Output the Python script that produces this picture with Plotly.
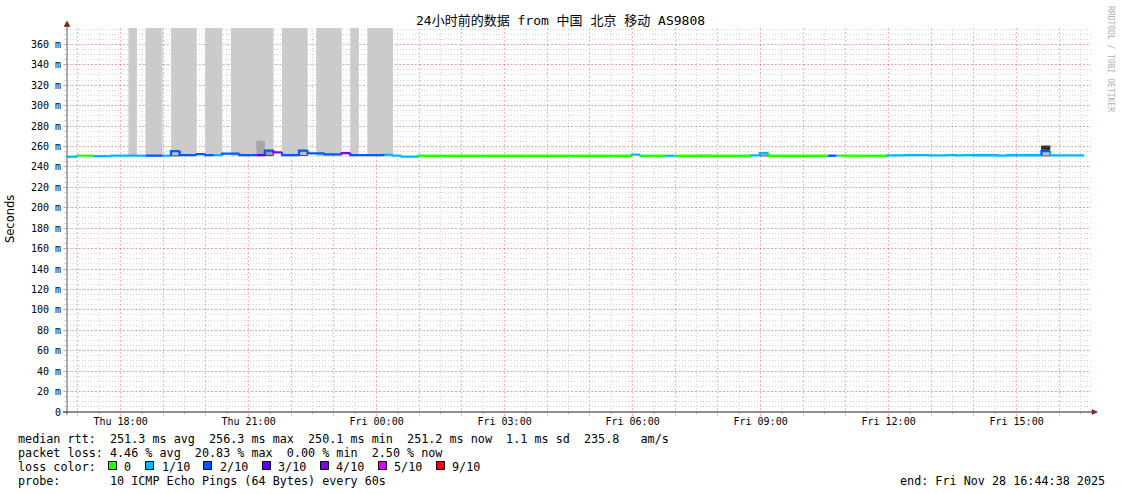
import plotly.graph_objects as go
from datetime import datetime, timedelta

# ---------------- geometry ----------------
W, H = 1121, 494
ML, MR, MT, MB = 67, 30, 28, 82
PW, PH = W - ML - MR, H - MT - MB

X_START = "2025-11-27 16:44:38"
X_END = "2025-11-28 16:44:38"
Y_MAX = 376

TITLE = "24小时前的数据 from 中国 北京 移动 AS9808"

# ---------------- data ----------------
# median rtt steps: start time, median (ms), pings lost (of 10)
step_start = [
    "2025-11-27 16:35", "2025-11-27 16:59", "2025-11-27 17:23", "2025-11-27 17:47",
    "2025-11-27 18:35", "2025-11-27 18:59", "2025-11-27 19:11", "2025-11-27 19:23",
    "2025-11-27 19:47", "2025-11-27 19:59", "2025-11-27 20:11", "2025-11-27 20:23",
    "2025-11-27 20:47", "2025-11-27 21:11", "2025-11-27 21:23", "2025-11-27 21:35",
    "2025-11-27 21:47", "2025-11-27 22:11", "2025-11-27 22:23", "2025-11-27 22:47",
    "2025-11-27 23:11", "2025-11-27 23:23", "2025-11-28 00:11", "2025-11-28 00:23",
    "2025-11-28 00:35", "2025-11-28 00:59", "2025-11-28 05:59", "2025-11-28 06:11",
    "2025-11-28 06:47", "2025-11-28 06:59", "2025-11-28 08:47", "2025-11-28 08:59",
    "2025-11-28 09:11", "2025-11-28 10:35", "2025-11-28 10:47", "2025-11-28 11:59",
    "2025-11-28 12:23", "2025-11-28 12:59", "2025-11-28 13:23", "2025-11-28 13:35",
    "2025-11-28 13:47", "2025-11-28 13:59", "2025-11-28 14:35", "2025-11-28 14:47",
    "2025-11-28 15:35", "2025-11-28 15:47",
]
step_last_end = "2025-11-28 16:35"
step_median = [
    250.0, 251.0, 250.5, 251.0,
    251.0, 251.0, 255.5, 251.5,
    252.5, 251.5, 251.5, 253.0,
    251.5, 251.5, 256.0, 254.3,
    251.5, 256.0, 253.2, 252.2,
    253.5, 251.5, 251.8, 251.0,
    250.0, 250.9, 252.0, 250.9,
    250.9, 250.9, 251.2, 253.5,
    250.9, 251.0, 250.9, 251.3,
    251.6, 251.3, 251.6, 251.2,
    251.6, 251.4, 251.1, 251.4,
    255.5, 251.3,
]
step_lost = [
    1, 0, 1, 1,
    2, 1, 2, 2,
    2, 2, 1, 2,
    2, 3, 2, 4,
    2, 2, 2, 2,
    4, 2, 1, 1,
    1, 0, 1, 0,
    1, 0, 1, 1,
    0, 2, 0, 1,
    1, 1, 1, 1,
    1, 1, 1, 1,
    2, 1,
]

# smoke blocks: start, end, low (ms), high (ms), style
smoke_start = [
    "2025-11-27 18:11", "2025-11-27 18:35", "2025-11-27 19:11", "2025-11-27 19:59",
    "2025-11-27 20:35", "2025-11-27 21:47", "2025-11-27 22:35", "2025-11-27 23:23",
    "2025-11-27 23:47", "2025-11-28 07:35",
    "2025-11-27 21:11",
    "2025-11-27 19:11", "2025-11-27 21:23", "2025-11-27 22:11", "2025-11-28 08:59",
    "2025-11-28 15:35",
    "2025-11-28 15:35",
]
smoke_end = [
    "2025-11-27 18:23", "2025-11-27 18:59", "2025-11-27 19:47", "2025-11-27 20:23",
    "2025-11-27 21:35", "2025-11-27 22:23", "2025-11-27 23:11", "2025-11-27 23:35",
    "2025-11-28 00:23", "2025-11-28 07:47",
    "2025-11-27 21:23",
    "2025-11-27 19:23", "2025-11-27 21:35", "2025-11-27 22:23", "2025-11-28 09:11",
    "2025-11-28 15:47",
    "2025-11-28 15:47",
]
smoke_lo = [
    250.5, 250.5, 250.5, 250.5, 250.5, 250.5, 250.5, 250.5, 250.5, 250.9,
    251.5,
    250.8, 251.2, 251.2, 250.8,
    250.8,
    256.8,
]
smoke_hi = [
    400, 400, 400, 400, 400, 400, 400, 400, 400, 252.3,
    265.5,
    255.5, 256.0, 256.0, 253.5,
    255.5,
    260.5,
]
smoke_style = [
    "light", "light", "light", "light", "light", "light", "light", "light", "light", "light",
    "mid",
    "box", "boxdark", "box", "box",
    "box",
    "dark",
]

loss_levels = [0, 1, 2, 3, 4, 5, 9]
loss_labels = ["0", "1/10", "2/10", "3/10", "4/10", "5/10", "9/10"]
loss_colors = ["#26ff00", "#00b8ff", "#0059ff", "#5e00ff", "#7e00ff", "#dd00ff", "#ff0000"]

y_tick_vals = list(range(0, 361, 20))
y_tick_text = ["0"] + [f"{v} m" for v in y_tick_vals[1:]]

stat_lines = [
    "median rtt:  251.3 ms avg  256.3 ms max  250.1 ms min  251.2 ms now  1.1 ms sd  235.8   am/s",
    "packet loss: 4.46 % avg  20.83 % max  0.00 % min  2.50 % now",
    "loss color:",
    "probe:       10 ICMP Echo Pings (64 Bytes) every 60s",
]
end_text = "end: Fri Nov 28 16:44:38 2025"

# ---------------- helpers ----------------
MONO = "DejaVu Sans Mono, Noto Sans CJK SC, monospace"


def pxx(x):
    return (x - ML) / PW


def pxy(y):
    return (H - MB - y) / PH


def nb(s):
    return s.replace(" ", "\u00a0")


fig = go.Figure()

# smoke
style_fmt = {
    "light": dict(fill="#cbcbcb", line="rgba(0,0,0,0)", lw=0),
    "mid": dict(fill="#a6a6a6", line="rgba(0,0,0,0)", lw=0),
    "box": dict(fill="#c4c4c4", line="#303030", lw=0.8),
    "boxdark": dict(fill="#9c9c9c", line="#303030", lw=0.8),
    "dark": dict(fill="#333333", line="#303030", lw=0.8),
}
for st, fmt in style_fmt.items():
    xs, ys = [], []
    for s, e, lo, hi, sty in zip(smoke_start, smoke_end, smoke_lo, smoke_hi, smoke_style):
        if sty != st:
            continue
        xs += [s, e, e, s, s, None]
        ys += [lo, lo, hi, hi, lo, None]
    fig.add_trace(go.Scatter(
        x=xs, y=ys, mode="lines", fill="toself", fillcolor=fmt["fill"],
        line=dict(color=fmt["line"], width=fmt["lw"]),
        hoverinfo="skip", showlegend=False))

# median line, coloured by loss
step_end = step_start[1:] + [step_last_end]
for lvl, col in zip(loss_levels, loss_colors):
    xs, ys = [], []
    for i, (s, e, v, l) in enumerate(zip(step_start, step_end, step_median, step_lost)):
        if l != lvl:
            continue
        prev = step_median[i - 1] if i > 0 else v
        xs += [s, s, e, None]
        ys += [prev, v, v, None]
    if xs:
        fig.add_trace(go.Scatter(
            x=xs, y=ys, mode="lines", line=dict(color=col, width=2.3),
            hoverinfo="skip", showlegend=False))

GRID = "rgba(143,143,143,0.38)"
MGRID = "rgba(230,60,60,0.38)"

shapes = []
# half-hour minor vertical grid lines
t0 = datetime(2025, 11, 27, 17, 30)
t_end = datetime(2025, 11, 28, 16, 44)
t = t0
while t <= t_end:
    shapes.append(dict(type="line", xref="x", yref="paper", x0=t, x1=t, y0=0, y1=1,
                       line=dict(color=GRID, width=1, dash="1px,2px"), layer="below"))
    shapes.append(dict(type="line", xref="x", yref="paper", x0=t, x1=t, y0=pxy(412), y1=pxy(415),
                       line=dict(color=GRID, width=1)))
    t += timedelta(hours=1)

# axis lines and arrows
shapes.append(dict(type="line", xref="paper", yref="paper", x0=pxx(67), x1=pxx(67),
                   y0=pxy(415), y1=pxy(24), line=dict(color="#5a5a5a", width=1)))
shapes.append(dict(type="line", xref="paper", yref="paper", x0=pxx(63), x1=pxx(1093),
                   y0=pxy(412), y1=pxy(412), line=dict(color="#1f1f1f", width=1)))
shapes.append(dict(type="path", xref="paper", yref="paper",
                   path=f"M {pxx(64)} {pxy(26.5)} L {pxx(67)} {pxy(21)} L {pxx(70)} {pxy(26.5)} Z",
                   fillcolor="#801f1f", line=dict(color="#801f1f", width=0.5)))
shapes.append(dict(type="path", xref="paper", yref="paper",
                   path=f"M {pxx(1092)} {pxy(409.5)} L {pxx(1097.5)} {pxy(412)} L {pxx(1092)} {pxy(414.5)} Z",
                   fillcolor="#801f1f", line=dict(color="#801f1f", width=0.5)))

# legend squares
sq_x = [108, 145, 203, 262, 320, 378, 436]
txt_x = [122, 160, 218, 276, 334, 392, 450]
for x0, col in zip(sq_x, loss_colors):
    shapes.append(dict(type="rect", xref="paper", yref="paper",
                       x0=pxx(x0 + 0.5), x1=pxx(x0 + 8.5), y0=pxy(461.5), y1=pxy(469.5),
                       fillcolor=col, line=dict(color="#000000", width=1)))

annotations = []
annotations.append(dict(text=TITLE, x=pxx(560), y=pxy(21), xref="paper", yref="paper",
                        showarrow=False, xanchor="center", yanchor="middle",
                        font=dict(family=MONO, size=13, color="#000")))
annotations.append(dict(text="Seconds", x=pxx(10), y=pxy(219), xref="paper", yref="paper",
                        showarrow=False, xanchor="center", yanchor="middle", textangle=-90,
                        font=dict(family="DejaVu Sans", size=11.5, color="#000")))
annotations.append(dict(text=nb("RRDTOOL / TOBI OETIKER"), x=pxx(1110), y=pxy(59),
                        xref="paper", yref="paper", showarrow=False, xanchor="center",
                        yanchor="middle", textangle=90,
                        font=dict(family=MONO, size=8, color="#b0b0b0")))
row_y = [439, 453, 467, 481]
for line, yy in zip(stat_lines, row_y):
    annotations.append(dict(text=nb(line), x=pxx(16), y=pxy(yy), xref="paper", yref="paper",
                            showarrow=False, xanchor="left", yanchor="middle",
                            font=dict(family=MONO, size=11.75, color="#000")))
for lab, xx in zip(loss_labels, txt_x):
    annotations.append(dict(text=lab, x=pxx(xx), y=pxy(467), xref="paper", yref="paper",
                            showarrow=False, xanchor="left", yanchor="middle",
                            font=dict(family=MONO, size=11.75, color="#000")))
annotations.append(dict(text=nb(end_text), x=pxx(1107), y=pxy(481), xref="paper", yref="paper",
                        showarrow=False, xanchor="right", yanchor="middle",
                        font=dict(family=MONO, size=11.75, color="#000")))

fig.update_layout(
    width=W, height=H,
    margin=dict(l=ML, r=MR, t=MT, b=MB, pad=0),
    paper_bgcolor="#ffffff", plot_bgcolor="#ffffff",
    showlegend=False,
    shapes=shapes, annotations=annotations,
    xaxis=dict(
        type="date", range=[X_START, X_END],
        tickformat="%a %H:%M", dtick=3 * 3600 * 1000, tick0="2025-11-27 18:00",
        showgrid=True, gridcolor=MGRID, griddash="2px,2px", gridwidth=1,
        minor=dict(dtick=3600 * 1000, tick0="2025-11-27 17:00", showgrid=True,
                   gridcolor=MGRID, griddash="2px,2px", gridwidth=1,
                   ticks="outside", ticklen=3, tickcolor=MGRID),
        ticks="outside", ticklen=3, tickcolor=MGRID,
        ticklabelstandoff=-3,
        showline=False, zeroline=False,
        tickfont=dict(family=MONO, size=10, color="#000"),
        fixedrange=True,
    ),
    yaxis=dict(
        range=[0, Y_MAX], tickmode="array", tickvals=y_tick_vals, ticktext=y_tick_text,
        showgrid=True, gridcolor=MGRID, griddash="2px,2px", gridwidth=1,
        minor=dict(dtick=5, tick0=0, showgrid=True, gridcolor=GRID,
                   griddash="1px,2px", gridwidth=1,
                   ticks="outside", ticklen=2, tickcolor=GRID),
        ticks="outside", ticklen=3, tickcolor=MGRID,
        showline=False, zeroline=False,
        tickfont=dict(family=MONO, size=10, color="#000"),
        fixedrange=True,
    ),
)

fig.write_html(
    "out.html",
    config={"displayModeBar": False},
    post_script="document.body.style.margin='0';document.body.style.padding='0';",
)
